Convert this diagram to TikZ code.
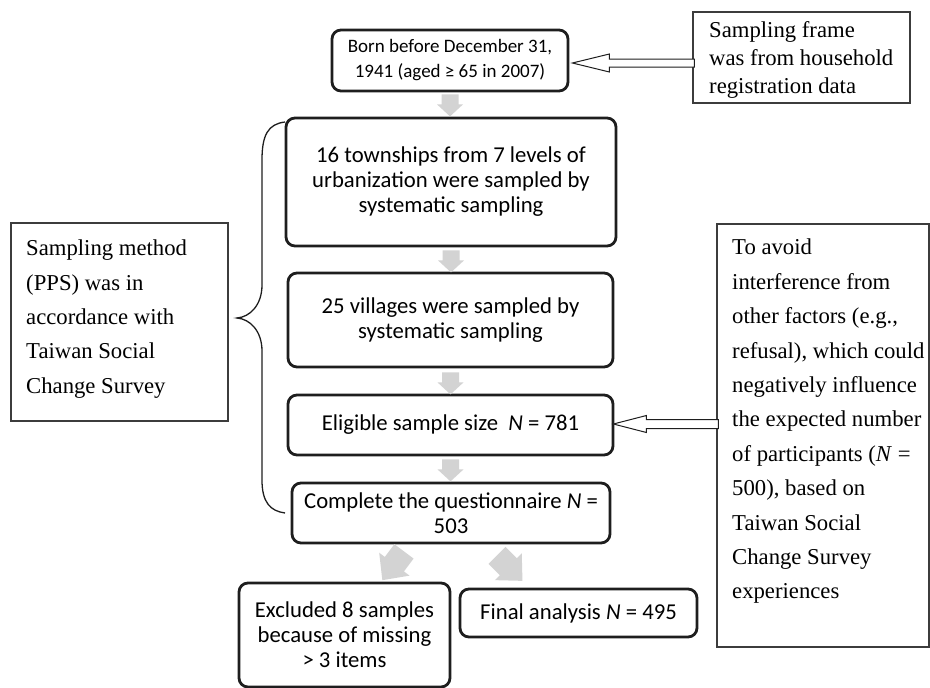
\documentclass[tikz,border=0pt]{standalone}
\usepackage{fontspec}
\setmainfont{Liberation Serif}
\newfontfamily\calib{Carlito}
\usetikzlibrary{calc}
\definecolor{agray}{RGB}{211,211,211}
\definecolor{bblack}{RGB}{30,30,30}
\definecolor{tgray}{RGB}{60,60,60}
\newcommand\blockdown[1]{\fill[agray] ($(#1)+(-8.5,0)$) -- ++(17,0) -- ++(0,10) -- ++(4.5,0) -- ++(-13,12) -- ++(-13,-12) -- ++(4.5,0) -- cycle;}
\newcommand\blockdiag[2]{\begin{scope}[shift={(#1)},rotate=#2]\fill[agray] (-12,0) -- (12,0) -- (12,16) -- (19,16) -- (0,36) -- (-19,16) -- (-12,16) -- cycle;\end{scope}}
\begin{document}
\begin{tikzpicture}[x=1pt,y=-1pt,
  rbox/.style={draw=bblack,line width=2.8pt,rounded corners=9pt,fill=white,align=center,inner sep=0pt,font=\calib\fontsize{22.7}{25}\selectfont},
  tbox/.style={draw=tgray,line width=1.1pt,fill=white,inner sep=0pt},
  stext/.style={align=left,inner sep=0pt,font=\fontsize{22.7}{34.4}\selectfont,anchor=west},
  hollow/.style={draw=bblack,line width=1pt,fill=white,line join=miter},
  brace/.style={draw=bblack,line width=1.3pt}
  ]
\useasboundingbox (0,0) rectangle (930,688);

% thin explanatory boxes
\node[tbox,minimum width=217pt,minimum height=91pt] (frame) at (801.5,57.5) {};
\node[stext,font=\fontsize{22.7}{28}\selectfont] (frametxt) at (709,60) {Sampling frame\\was from household\\registration data};
\node[tbox,minimum width=217pt,minimum height=198pt] (meth) at (119.5,322) {};
\node[stext] (methtxt) at (26,319) {Sampling method\\(PPS) was in\\accordance with\\Taiwan Social\\Change Survey};
\node[tbox,minimum width=212pt,minimum height=423pt] (avoid) at (823,435.5) {};
\node[stext] (avoidtxt) at (732,421.5) {To avoid\\interference from\\other factors (e.g.,\\refusal), which could\\negatively influence\\the expected number\\of participants (\textit{N} =\\500), based on\\Taiwan Social\\Change Survey\\experiences};

% main flow boxes
\node[rbox,minimum width=236pt,minimum height=61pt,font=\calib\fontsize{19}{25}\selectfont] (born) at (450,60.5) {Born before December 31,\\1941 (aged ≥ 65 in 2007)};
\node[rbox,minimum width=330pt,minimum height=128pt] (town) at (451,182) {16 townships from 7 levels of\\urbanization were sampled by\\systematic sampling};
\node[rbox,minimum width=325pt,minimum height=94pt] (vill) at (450.5,320) {25 villages were sampled by\\systematic sampling};
\node[rbox,minimum width=325pt,minimum height=60pt] (elig) at (450.5,425) {Eligible sample size\ \ \textit{N} = 781};
\node[rbox,minimum width=318pt,minimum height=60pt] (comp) at (451,513) {Complete the questionnaire \textit{N} =\\503};
\node[rbox,minimum width=211pt,minimum height=104pt] (excl) at (344.5,635) {Excluded 8 samples\\because of missing\\> 3 items};
\node[rbox,minimum width=237pt,minimum height=48pt] (final) at (578.5,613) {Final analysis \textit{N} = 495};

% gray block arrows
\coordinate (a1) at ([yshift=-2pt]born.south);
\coordinate (a2) at ([yshift=-3pt]town.south);
\coordinate (a3) at ([yshift=-4pt]vill.south);
\coordinate (a4) at ([yshift=-3pt]elig.south);
\blockdown{a1}
\blockdown{a2}
\blockdown{a3}
\blockdown{a4}
\coordinate (d1) at ($(comp.south)+(-47,7)$);
\coordinate (d2) at ($(comp.south)+(46,11)$);
\blockdiag{d1}{-37}
\blockdiag{d2}{45}

% hollow arrows
\coordinate (h1) at ($(born.east)+(3,2.5)$);
\coordinate (h2) at ($(elig.east)+(-1,-1)$);
\draw[hollow] (h1) -- ++(37,-9) -- ++(0,5) -- ++(85,0) -- ++(0,8) -- ++(-85,0) -- ++(0,5) -- cycle;
\draw[hollow] (h2) -- ++(33,-8.5) -- ++(0,4) -- ++(72,0) -- ++(0,9) -- ++(-72,0) -- ++(0,4) -- cycle;

% brace
\draw[brace] (285,122) .. controls (268,124) and (262,135) .. (262,160) -- (262,285) .. controls (262,305) and (250,317) .. (237,318) .. controls (250,319) and (262,331) .. (262,351) -- (262,480) .. controls (262,502) and (270,511) .. (285,513);
\end{tikzpicture}
\end{document}
